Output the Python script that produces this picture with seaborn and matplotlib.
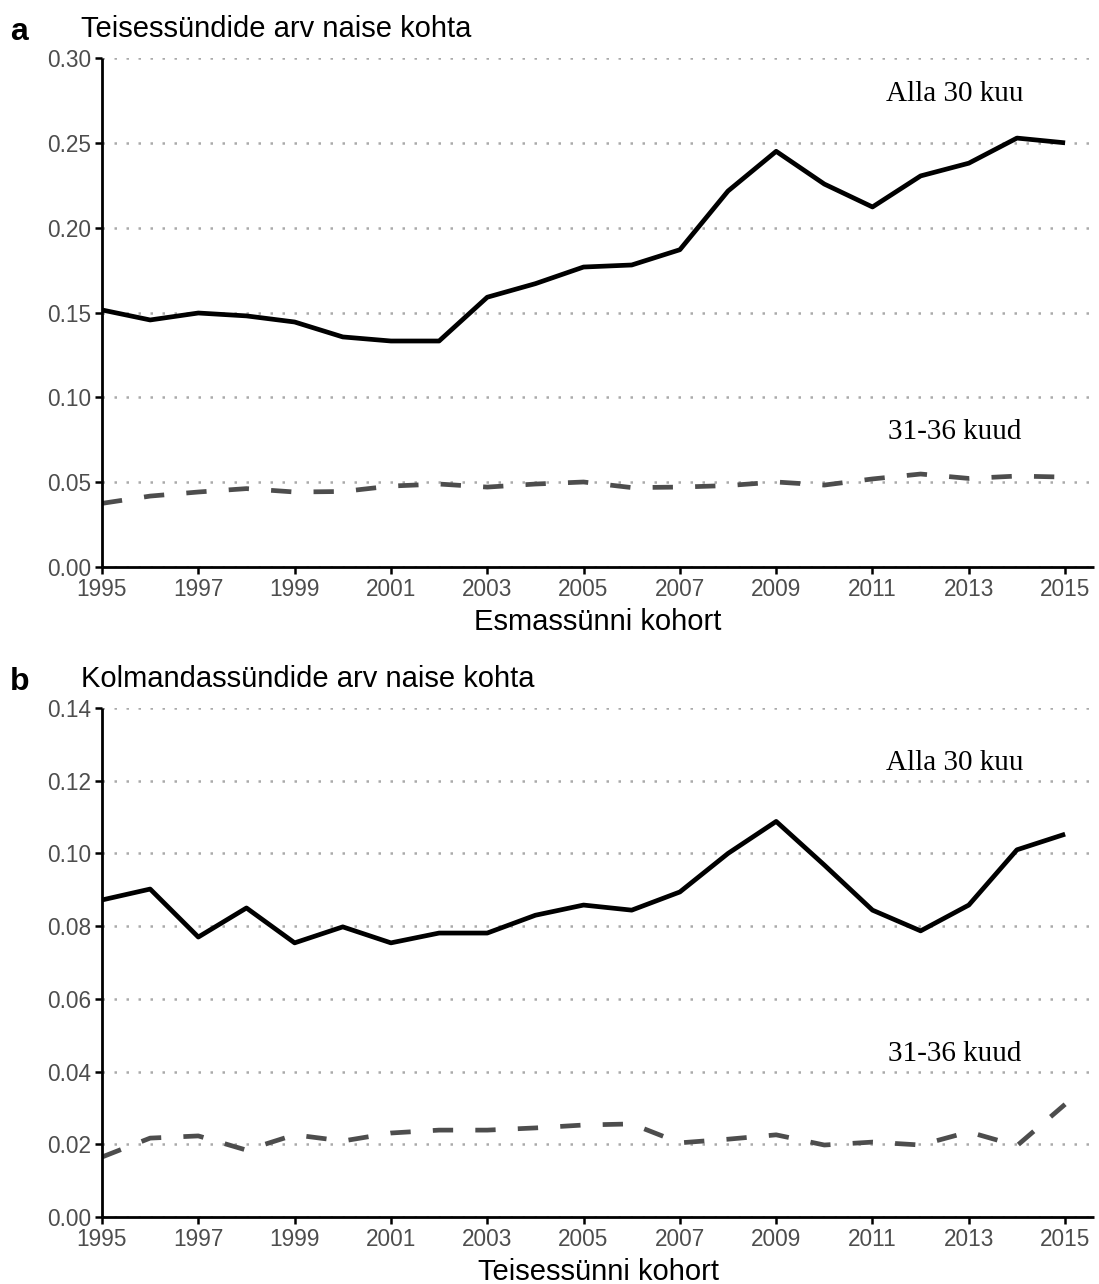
import pandas as pd
import seaborn as sns
import matplotlib.pyplot as plt
import numpy as np

years = list(range(1995, 2016))

# a: second births per woman by first-birth cohort
a_under30 = [0.1515, 0.1456, 0.1497, 0.1480, 0.1444, 0.1356, 0.1332, 0.1332, 0.1590, 0.1670,
             0.1768, 0.1780, 0.1870, 0.2216, 0.2450, 0.2257, 0.2122, 0.2305, 0.2380, 0.2528, 0.2500]
a_31_36 = [0.0375, 0.0418, 0.0442, 0.0462, 0.0442, 0.0445, 0.0477, 0.0489, 0.0471, 0.0489,
           0.0501, 0.0468, 0.0471, 0.0480, 0.0501, 0.0483, 0.0519, 0.0548, 0.0522, 0.0536, 0.0530]

# b: third births per woman by second-birth cohort
b_under30 = [0.0872, 0.0902, 0.0770, 0.0850, 0.0754, 0.0798, 0.0754, 0.0781, 0.0781, 0.0830,
             0.0858, 0.0844, 0.0894, 0.1000, 0.1088, 0.0968, 0.0844, 0.0787, 0.0858, 0.1010, 0.1053]
b_31_36 = [0.0165, 0.0217, 0.0223, 0.0184, 0.0226, 0.0209, 0.0231, 0.0239, 0.0239, 0.0245,
           0.0253, 0.0256, 0.0204, 0.0214, 0.0226, 0.0198, 0.0206, 0.0198, 0.0234, 0.0196, 0.0310]

groups = ['Alla 30 kuu', '31-36 kuud']
panel_letters = ['a', 'b']
titles = ['Teisessündide arv naise kohta', 'Kolmandassündide arv naise kohta']
xlabels = ['Esmassünni kohort', 'Teisessünni kohort']
ylims = [0.30, 0.14]
ysteps = [0.05, 0.02]
label_x = 2012.7
label_y = [[0.279, 0.0796], [0.1249, 0.0448]]

sns.set_style('ticks')
plt.rcParams['font.family'] = ['Liberation Sans', 'DejaVu Sans']

fig = plt.figure(figsize=(10.99, 12.84), dpi=100)
W, H = 1099, 1284
axes = [fig.add_axes([102 / W, 1 - 567 / H, 992 / W, 509 / H]),
        fig.add_axes([102 / W, 1 - 1217 / H, 992 / W, 509 / H])]

panels = [(a_under30, a_31_36), (b_under30, b_31_36)]
title_base = [37, 687]

for i, ax in enumerate(axes):
    s1, s2 = panels[i]
    df = pd.DataFrame({'year': years * 2,
                       'value': s1 + s2,
                       'group': [groups[0]] * len(years) + [groups[1]] * len(years)})
    sns.lineplot(data=df, x='year', y='value', hue='group', style='group',
                 palette={groups[0]: 'black', groups[1]: '#4d4d4d'},
                 dashes={groups[0]: '', groups[1]: (4.3, 4.7)},
                 linewidth=3.4, legend=False, ax=ax)
    for line in ax.get_lines():
        line.set_solid_capstyle('butt')
        line.set_dash_capstyle('butt')
    ax.set_xlim(1995, 2015.6)
    ax.set_ylim(0, ylims[i])
    ax.set_xticks(range(1995, 2016, 2))
    ticks = np.round(np.arange(0, ylims[i] + 1e-9, ysteps[i]), 2)
    ax.set_yticks(ticks)
    ax.set_yticklabels([f'{t:.2f}' for t in ticks])
    ax.yaxis.grid(True, color='#aaaaaa', linestyle=(0, (1, 3.8)), linewidth=1.8)
    ax.xaxis.grid(False)
    ax.set_axisbelow(True)
    sns.despine(ax=ax)
    for sp in ['left', 'bottom']:
        ax.spines[sp].set_linewidth(2.0)
        ax.spines[sp].set_color('black')
        ax.spines[sp].set_capstyle('butt')
    ax.tick_params(axis='both', length=5, width=1.8, color='black',
                   labelsize=16.3, labelcolor='#4d4d4d', pad=3)
    ax.set_xlabel(xlabels[i], fontsize=21, color='black', labelpad=5)
    ax.set_ylabel('')
    for g, yv in zip(groups, label_y[i]):
        ax.text(label_x, yv, g, ha='center', va='center', fontsize=21,
                family='Liberation Serif', color='black')
    fig.text(10 / W, 1 - (title_base[i] + 3) / H, panel_letters[i], fontsize=23,
             fontweight='bold', ha='left', va='baseline', color='black')
    fig.text(81 / W, 1 - title_base[i] / H, titles[i], fontsize=21,
             ha='left', va='baseline', color='black')

fig.savefig('out.png', dpi=100)
